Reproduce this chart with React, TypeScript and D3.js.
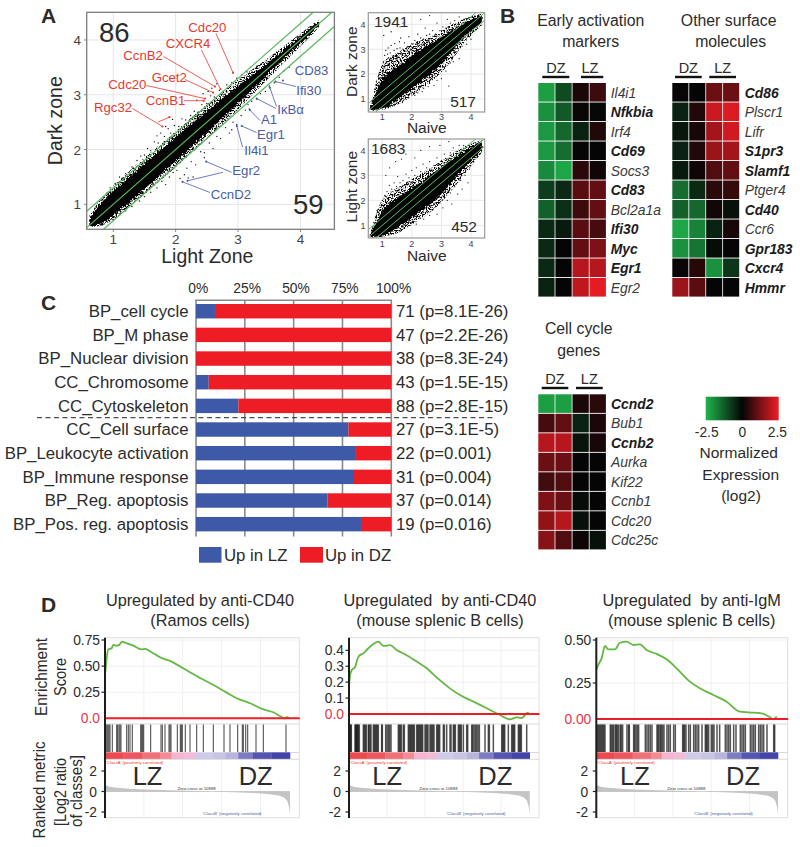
import React from "react";
import * as d3 from "d3";

const FONT = "'Liberation Sans', Arial, sans-serif";
const INK = "#2b2b2b";

// ---------- Panel A data ----------
const mainTicks = [1, 2, 3, 4];
const mainCloudX = [0.62, 0.8, 1, 1.25, 1.5, 1.75, 2, 2.25, 2.5, 2.75, 3, 3.25, 3.5, 3.75, 4, 4.2, 4.3];
const mainCloudHi = [0.74, 1.02, 1.24, 1.49, 1.74, 1.98, 2.22, 2.46, 2.7, 2.93, 3.16, 3.38, 3.6, 3.83, 4.06, 4.25, 4.33];
const mainCloudLo = [0.6, 0.63, 0.8, 1.03, 1.28, 1.54, 1.79, 2.05, 2.31, 2.57, 2.84, 3.12, 3.4, 3.68, 3.94, 4.15, 4.27];
const mainHaloHi = [0.8, 1.1, 1.34, 1.6, 1.85, 2.09, 2.33, 2.58, 2.82, 3.05, 3.28, 3.48, 3.69, 3.9, 4.12, 4.29, 4.36];
const mainHaloLo = [0.59, 0.6, 0.72, 0.94, 1.18, 1.43, 1.67, 1.93, 2.19, 2.46, 2.73, 3.02, 3.31, 3.6, 3.88, 4.11, 4.24];
const mainOutliers: [number, number][] = [
  [0.82, 1.08], [0.9, 1.2], [0.95, 1.3], [1.03, 1.38], [1.1, 1.5], [1.16, 1.46], [1.2, 1.56], [1.3, 1.68], [1.33, 1.62], [1.38, 1.8],
  [1.44, 1.88], [1.5, 1.9], [1.55, 2.02], [1.6, 1.98], [1.66, 2.14], [1.72, 2.12], [1.76, 2.3], [1.82, 2.24], [1.88, 2.38], [1.92, 2.3],
  [1.98, 2.44], [2.05, 2.42], [2.1, 2.56], [2.16, 2.54], [2.24, 2.62], [2.3, 2.7], [2.36, 2.68], [2.42, 2.82], [2.5, 2.84], [2.56, 2.98],
  [2.62, 2.96], [2.7, 3.08], [2.76, 3.06], [2.82, 3.18], [2.9, 3.22], [2.98, 3.3], [3.06, 3.36], [3.14, 3.42], [3.2, 3.5], [3.3, 3.52],
  [2.44, 3.02], [2.52, 3.06], [2.58, 3.12], [2.34, 2.9], [2.66, 3.2], [1.84, 2.42], [1.95, 2.55], [1.7, 2.25],
  [1.0, 0.72], [1.1, 0.8], [1.2, 0.88], [1.3, 0.96], [1.42, 1.06], [1.5, 1.14], [1.6, 1.22], [1.7, 1.3], [1.78, 1.42], [1.84, 1.36],
  [1.9, 1.5], [1.96, 1.58], [2.02, 1.62], [2.07, 1.47], [2.14, 1.54], [2.18, 1.66], [2.25, 1.78], [2.32, 1.72], [2.4, 1.96], [2.46, 1.94],
  [2.54, 2.12], [2.6, 2.02], [2.66, 2.24], [2.72, 2.2], [2.8, 2.4], [2.86, 2.3], [2.92, 2.5], [2.98, 2.46], [3.05, 2.62], [3.12, 2.72],
  [3.16, 2.82], [3.22, 2.88], [3.3, 2.92], [3.36, 3.02], [3.44, 3.06], [3.5, 3.16], [3.58, 3.22], [3.66, 3.32], [3.74, 3.44], [3.82, 3.5],
  [2.28, 1.5], [2.2, 1.48], [2.46, 1.85], [2.9, 2.36], [3.18, 2.74],
];
type Ann = { label: string; tx: number; ty: number; lines: [number, number, number, number][]; dots: [number, number][] };
const redLabels: Ann[] = [
  { label: "Cdc20", tx: 188.3, ty: 31.7, lines: [[216, 33.5, 2.92, 3.4]], dots: [[2.92, 3.4]] },
  { label: "CXCR4", tx: 165.7, ty: 48.3, lines: [[201.5, 50, 2.72, 3.1]], dots: [[2.72, 3.1]] },
  { label: "CcnB2", tx: 123.3, ty: 60, lines: [[163.5, 56.5, 2.63, 3.15]], dots: [[2.63, 3.15]] },
  { label: "Gcet2", tx: 151.7, ty: 82, lines: [[185, 79.5, 2.6, 3.04]], dots: [[2.6, 3.04]] },
  { label: "Cdc20", tx: 108.3, ty: 89.3, lines: [[146.5, 85.5, 2.47, 2.93]], dots: [[2.47, 2.93]] },
  { label: "CcnB1", tx: 145.7, ty: 105.3, lines: [[184, 100.7, 2.45, 2.89]], dots: [[2.45, 2.89]] },
  { label: "Rgc32", tx: 94, ty: 112, lines: [[132.5, 108.5, 1.79, 2.42], [158, 122, 1.9, 2.59]], dots: [[1.79, 2.42], [1.9, 2.59]] },
];
const blueLabels: Ann[] = [
  { label: "CD83", tx: 294.7, ty: 74.7, lines: [], dots: [[3.72, 3.26]] },
  { label: "Ifi30", tx: 296.3, ty: 95, lines: [[296, 86.5, 3.6, 3.24]], dots: [[3.6, 3.24]] },
  { label: "IκBα", tx: 277.3, ty: 114.3, lines: [[276.5, 106.5, 3.51, 3.13], [276, 108.5, 3.3, 2.93]], dots: [[3.51, 3.13], [3.3, 2.93]] },
  { label: "A1", tx: 261, ty: 123.7, lines: [[260, 120.5, 3.19, 2.72]], dots: [[3.19, 2.72]] },
  { label: "Egr1", tx: 257, ty: 138.7, lines: [[256.5, 132.5, 3.06, 2.43]], dots: [[3.06, 2.43]] },
  { label: "Il4i1", tx: 244.3, ty: 155.3, lines: [[242.5, 147, 2.98, 2.43]], dots: [[2.98, 2.43]] },
  { label: "Egr2", tx: 232.3, ty: 174.7, lines: [[231.5, 172.3, 2.49, 1.78], [223, 172.3, 2.19, 1.43]], dots: [[2.49, 1.78], [2.19, 1.43]] },
  { label: "CcnD2", tx: 210.7, ty: 198.7, lines: [[210, 192.5, 2.11, 1.41]], dots: [[2.11, 1.41]] },
];

const naiveX = [0.61, 0.9, 1.12, 1.58, 2.15, 2.71, 3.28, 3.85, 4.36];
const darkHi = [0.69, 1.55, 1.98, 2.35, 2.88, 3.26, 3.7, 4.08, 4.37];
const darkLo = [0.56, 0.6, 0.68, 1.05, 1.58, 2.08, 2.82, 3.6, 4.06];
const darkHaloHi = [0.72, 2.1, 2.6, 2.9, 3.3, 3.55, 3.95, 4.25, 4.42];
const darkHaloLo = [0.54, 0.56, 0.6, 0.8, 1.25, 1.75, 2.45, 3.35, 3.95];
const lightHi = [0.67, 1.35, 1.75, 2.15, 2.6, 3.08, 3.55, 4.0, 4.33];
const lightLo = [0.53, 0.56, 0.64, 0.95, 1.45, 1.93, 2.62, 3.4, 4.0];
const lightHaloHi = [0.7, 1.8, 2.2, 2.55, 2.95, 3.35, 3.8, 4.2, 4.4];
const lightHaloLo = [0.52, 0.53, 0.56, 0.72, 1.15, 1.6, 2.3, 3.15, 3.9];
const darkOutliers: [number, number][] = [
  [0.75, 1.4], [0.8, 1.7], [0.84, 1.55], [0.86, 1.9], [0.9, 2.05], [0.94, 1.85], [0.98, 2.3], [1.02, 2.1], [1.04, 2.5], [1.06, 1.95], [1.08, 2.75], [1.1, 2.35], [1.12, 2.95], [1.15, 2.5], [1.17, 2.2], [1.18, 2.8], [1.2, 3.05], [1.22, 2.35], [1.25, 2.6], [1.27, 2.85], [1.3, 3.15], [1.32, 2.5], [1.35, 2.72], [1.38, 2.45], [1.4, 2.95], [1.42, 3.22], [1.45, 2.75], [1.48, 2.55], [1.5, 3.02], [1.53, 2.7], [1.55, 2.82], [1.58, 3.3], [1.6, 3.05], [1.62, 3.45], [1.65, 2.85], [1.68, 2.65], [1.7, 3.0], [1.75, 3.25], [1.78, 2.75], [1.8, 2.92], [1.85, 3.1], [1.88, 2.85], [1.9, 3.5], [1.95, 3.0], [2.0, 3.22], [2.02, 2.95], [2.05, 3.05], [2.1, 3.35], [2.15, 3.2], [2.2, 3.6], [2.25, 3.3], [2.3, 3.45], [2.35, 3.15], [2.4, 3.4], [2.45, 3.85], [2.5, 3.55], [2.55, 3.3], [2.6, 3.6], [2.65, 3.42], [2.7, 3.75], [2.8, 3.6], [2.85, 4.05], [2.95, 3.75], [3.05, 3.9], [3.1, 3.6], [3.15, 3.85], [3.2, 4.2], [3.3, 4.05], [3.38, 3.85], [3.45, 4.15], [3.55, 4.0], [3.6, 4.3], [3.75, 4.2], [1.7, 4.05], [1.3, 3.7], [1.05, 3.55], [1.6, 3.9], [2.3, 4.2], [2.6, 4.35],
  [1.0, 0.7], [1.15, 0.68], [1.25, 0.72], [1.3, 0.8], [1.4, 0.75], [1.5, 0.85], [1.6, 0.92], [1.68, 0.86], [1.72, 1.1], [1.8, 1.22], [1.88, 1.05], [1.95, 1.3], [2.05, 1.42], [2.1, 1.15], [2.2, 1.25], [2.25, 1.45], [2.3, 1.66], [2.35, 1.3], [2.4, 1.42], [2.5, 1.75], [2.55, 1.5], [2.6, 1.62], [2.7, 1.85], [2.75, 1.55], [2.85, 1.75], [2.9, 2.05], [3.0, 1.82], [3.05, 2.3], [3.15, 2.12], [3.25, 1.52], [3.3, 2.45], [3.4, 2.5], [3.5, 2.9], [3.6, 2.62], [3.7, 3.12], [3.85, 3.2], [4.0, 3.4], [4.1, 3.72],
];
const lightOutliers: [number, number][] = [
  [0.72, 1.1], [0.78, 1.35], [0.82, 1.6], [0.88, 1.5], [0.92, 1.8], [0.96, 1.62], [1.0, 2.0], [1.04, 1.75], [1.08, 2.2], [1.12, 1.95], [1.16, 2.35], [1.2, 2.1], [1.24, 2.6], [1.28, 2.25], [1.32, 2.45], [1.36, 2.2], [1.4, 2.7], [1.44, 2.4], [1.48, 2.55], [1.52, 2.95], [1.56, 2.45], [1.6, 2.7], [1.64, 2.5], [1.7, 2.8], [1.74, 2.6], [1.8, 3.05], [1.85, 2.72], [1.9, 2.9], [1.96, 2.7], [2.0, 3.2], [2.05, 2.85], [2.1, 3.0], [2.15, 3.3], [2.2, 2.95], [2.3, 3.15], [2.38, 3.45], [2.45, 3.1], [2.5, 3.3], [2.6, 3.55], [2.65, 3.25], [2.75, 3.4], [2.85, 3.7], [2.9, 3.45], [3.0, 3.6], [3.1, 3.85], [3.18, 3.65], [3.3, 3.9], [3.4, 4.1], [3.5, 3.95], [3.6, 4.2], [3.75, 4.2],
  [1.45, 3.55], [1.65, 3.65], [1.25, 3.3], [1.12, 3.0], [1.8, 3.85], [2.1, 3.7], [2.3, 4.0], [2.6, 4.15], [2.95, 4.2], [3.25, 4.35],
  [1.1, 0.62], [1.3, 0.65], [1.45, 0.72], [1.6, 0.78], [1.7, 0.95], [1.8, 1.02], [1.9, 1.15], [2.0, 1.1], [2.08, 1.25], [2.15, 1.05], [2.25, 1.3], [2.35, 1.5], [2.4, 1.25], [2.5, 1.55], [2.6, 1.4], [2.7, 1.62], [2.8, 1.75], [2.85, 1.45], [2.95, 1.9], [3.05, 1.7], [3.1, 2.15], [3.2, 2.0], [3.3, 2.3], [3.35, 1.85], [3.45, 2.55], [3.55, 2.25], [3.65, 2.8], [3.7, 2.45], [3.8, 3.0], [3.9, 2.7], [3.95, 3.25], [4.05, 3.55],
];

// ---------- Panel B data ----------
const earlyGenes = ["Il4i1", "Nfkbia", "Irf4", "Cd69", "Socs3", "Cd83", "Bcl2a1a", "Ifi30", "Myc", "Egr1", "Egr2"];
const earlyBold = ["Nfkbia", "Cd69", "Cd83", "Ifi30", "Myc", "Egr1"];
const earlyValues = [
  [-2.2, -1.0, 0.25, 0.6], [-2.0, -1.2, 0.03, -0.03], [-2.1, -1.4, -0.4, 0.3], [-2.1, -1.5, 0, 0], [-1.9, -2.3, 0.4, 0.12],
  [-0.8, -0.5, 0.9, 1.0], [-1.3, -0.6, 0.6, 1.0], [-0.5, -0.3, 0.9, 0.7], [-0.5, 0, 1.0, 1.3], [-0.5, 0, 1.9, 1.9], [-0.4, 0, 2.0, 2.4],
];
const surfaceGenes = ["Cd86", "Plscr1", "Lifr", "S1pr3", "Slamf1", "Ptger4", "Cd40", "Ccr6", "Gpr183", "Cxcr4", "Hmmr"];
const surfaceBold = ["Cd86", "S1pr3", "Slamf1", "Cd40", "Gpr183", "Cxcr4", "Hmmr"];
const surfaceValues = [
  [0.02, 0, 1.1, 1.1], [-0.4, 0.3, 2.1, 2.3], [-0.25, 0.2, 1.7, 2.2], [-0.4, 0.3, 1.6, 1.7], [-0.3, 0.12, 0.8, 1.0],
  [-1.5, -0.5, 0.4, 0.5], [-1.3, -1.4, 0.15, -0.15], [-2.3, -1.8, -0.4, 0.2], [-2.0, -1.6, -0.1, 0], [0.05, 0.35, -2.0, -0.7], [1.6, 0.9, 0, 0],
];
const cycleGenes = ["Ccnd2", "Bub1", "Ccnb2", "Aurka", "Kif22", "Ccnb1", "Cdc20", "Cdc25c"];
const cycleBold = ["Ccnd2", "Ccnb2"];
const cycleValues = [
  [-2.2, -2.2, 0.25, 0.4], [0.7, 1.0, -0.4, 0.25], [1.9, 1.9, -0.2, 0.2], [1.1, 1.1, 0, 0],
  [0.65, 0.8, 0, 0], [1.3, 1.1, -0.1, 0], [1.5, 1.9, -0.15, 0], [1.4, 0.8, 0.07, -0.15],
];
const heatColor = d3.scaleLinear<string>().domain([-2.5, 0, 2.5]).range(["#1fb44c", "#050505", "#ee1c25"]).clamp(true);

// ---------- Panel C data ----------
const terms = ["BP_cell cycle", "BP_M phase", "BP_Nuclear division", "CC_Chromosome", "CC_Cytoskeleton", "CC_Cell surface", "BP_Leukocyte activation", "BP_Immune response", "BP_Reg. apoptosis", "BP_Pos. reg. apoptosis"];
const upLZ = [9.7, 0, 0, 6.5, 21.7, 78, 81.9, 80.9, 67.4, 84.5];
const termNotes = ["71 (p=8.1E-26)", "47 (p=2.2E-26)", "38 (p=8.3E-24)", "43 (p=1.5E-15)", "88 (p=2.8E-15)", "27 (p=3.1E-5)", "22 (p=0.001)", "31 (p=0.004)", "37 (p=0.014)", "19 (p=0.016)"];
const pctTicks = [0, 25, 50, 75, 100];

// ---------- Panel D data ----------
const es1X = [0.002, 0.009, 0.018, 0.036, 0.045, 0.063, 0.077, 0.092, 0.108, 0.153, 0.198, 0.216, 0.252, 0.297, 0.36, 0.423, 0.495, 0.586, 0.658, 0.712, 0.784, 0.856, 0.91, 0.946, 0.973, 0.982, 0.996];
const es1Y = [0.447, 0.575, 0.661, 0.671, 0.703, 0.696, 0.703, 0.735, 0.725, 0.696, 0.661, 0.665, 0.633, 0.585, 0.543, 0.479, 0.406, 0.319, 0.246, 0.192, 0.144, 0.086, 0.058, 0.022, -0.003, 0.01, 0.003];
const es2X = [0, 0.006, 0.015, 0.033, 0.052, 0.079, 0.107, 0.135, 0.162, 0.19, 0.227, 0.264, 0.319, 0.375, 0.43, 0.485, 0.559, 0.614, 0.67, 0.725, 0.78, 0.836, 0.891, 0.928, 0.956, 0.989, 0.998];
const es2Y = [0.172, 0.245, 0.276, 0.293, 0.36, 0.381, 0.413, 0.44, 0.455, 0.428, 0.432, 0.402, 0.369, 0.329, 0.287, 0.23, 0.161, 0.119, 0.088, 0.057, 0.025, -0.006, -0.034, -0.021, -0.025, 0.008, 0];
const es3X = [0, 0.011, 0.029, 0.048, 0.066, 0.103, 0.13, 0.167, 0.204, 0.24, 0.277, 0.332, 0.387, 0.442, 0.515, 0.57, 0.644, 0.717, 0.79, 0.837, 0.91, 0.956, 0.974, 0.993];
const es3Y = [0.326, 0.355, 0.393, 0.465, 0.446, 0.446, 0.484, 0.49, 0.471, 0.475, 0.442, 0.419, 0.388, 0.335, 0.258, 0.213, 0.167, 0.12, 0.051, 0.046, 0.039, 0.012, -0.002, 0.016];
const hits1 = [15, 18, 21, 24, 27, 30, 37, 50, 53, 57, 60, 63, 80, 85, 90, 97, 122, 125, 128, 131, 152, 183, 187, 195, 207, 210, 213, 232, 241, 244, 247, 256, 270, 290, 310, 340, 372, 390, 413, 427, 430, 437, 443, 468, 490, 558];
const hits2 = [13, 15, 17, 19, 30, 32, 34, 36, 38, 40, 43, 55, 58, 61, 64, 70, 72, 75, 78, 85, 88, 91, 94, 97, 100, 110, 112, 122, 126, 130, 134, 138, 160, 163, 166, 169, 175, 178, 190, 193, 196, 199, 202, 205, 208, 215, 218, 221, 224, 227, 230, 233, 240, 243, 246, 249, 255, 258, 261, 264, 267, 275, 278, 281, 284, 295, 298, 305, 315, 318, 325, 328, 331, 340, 343, 346, 349, 355, 365, 368, 380, 383, 387, 391, 395, 399, 403, 420, 430, 433, 445, 470, 473, 476, 479, 490, 500, 503, 506, 509, 520, 523, 526, 529, 545];
const hits3 = [15, 18, 21, 24, 27, 30, 33, 36, 39, 55, 58, 62, 65, 70, 73, 76, 80, 85, 88, 92, 105, 110, 112, 125, 128, 132, 136, 140, 160, 165, 170, 175, 180, 195, 198, 201, 205, 208, 212, 216, 225, 230, 235, 245, 250, 272, 275, 278, 282, 290, 295, 305, 310, 315, 320, 330, 340, 343, 346, 350, 358, 362, 366, 375, 383, 400, 405, 410, 415, 425, 432, 445, 450, 455, 460, 475, 480, 485, 490, 500, 505, 510, 515, 525, 545, 548];
const rankBandStops = [0, 0.1, 0.2, 0.3, 0.36, 0.43, 0.49, 0.58, 0.65, 0.72, 0.8, 0.9, 1];
const rankBandColors = ["#ec4a50", "#ee5560", "#f0707a", "#f48a92", "#f5b5d0", "#f0bcd8", "#cfcbe8", "#c8c4e4", "#b8b4dc", "#7d7cc0", "#5555b0", "#4444a8"];
const metricX = [0, 0.01, 0.03, 0.08, 0.15, 0.25, 0.35, 0.45, 0.55, 0.6, 0.7, 0.8, 0.88, 0.94, 0.97, 0.985, 0.995, 1];
const metricY = [0.7, 0.55, 0.45, 0.33, 0.25, 0.17, 0.12, 0.08, 0.02, -0.03, -0.07, -0.15, -0.25, -0.4, -0.6, -0.9, -1.5, -2.3];
const metricTicks = [2, 0, -2];

const T = (p: any) => <text fontFamily={FONT} fill={INK} {...p} />;

function ScatterMain() {
  const x = d3.scaleLinear().domain([0.574, 4.545]).range([86.7, 334.4]);
  const y = d3.scaleLinear().domain([0.544, 4.505]).range([229.3, 12.3]);
  const area = d3.area<number>().x((_, i) => x(mainCloudX[i])).y0((_, i) => y(mainCloudLo[i])).y1((_, i) => y(mainCloudHi[i]));
  const halo = d3.area<number>().x((_, i) => x(mainCloudX[i])).y0((_, i) => y(mainHaloLo[i])).y1((_, i) => y(mainHaloHi[i]));
  const green = "#5ab85f";
  const lineFor = (d: number) => {
    const lo = Math.max(0.574, 0.544 - d), hi = Math.min(4.545, 4.505 - d);
    return <line x1={x(lo)} y1={y(lo + d)} x2={x(hi)} y2={y(hi + d)} stroke={green} strokeWidth={1.2} />;
  };
  const ann = (a: Ann, col: string) => (
    <g key={a.label + a.tx}>
      {a.lines.map((l, i) => <line key={i} x1={l[0]} y1={l[1]} x2={x(l[2])} y2={y(l[3])} stroke={col} strokeWidth={0.8} />)}
      {a.dots.map((d, i) => <circle key={i} cx={x(d[0])} cy={y(d[1])} r={1.1} fill={col} />)}
      <T x={a.tx} y={a.ty} fontSize={13.2} fill={col}>{a.label}</T>
    </g>
  );
  return (
    <g>
      {mainTicks.map(t => <g key={t}>
        <line x1={x(t)} x2={x(t)} y1={12.3} y2={229.3} stroke="#e6e6e6" />
        <line x1={86.7} x2={334.4} y1={y(t)} y2={y(t)} stroke="#e6e6e6" />
        <line x1={x(t)} x2={x(t)} y1={229.3} y2={232} stroke="#888" />
        <line x1={84} x2={86.7} y1={y(t)} y2={y(t)} stroke="#888" />
        <T x={x(t)} y={243.5} fontSize={13.5} textAnchor="middle" fill="#444">{t}</T>
        <T x={81} y={y(t) + 5} fontSize={13.5} textAnchor="end" fill="#444">{t}</T>
      </g>)}
      <path d={halo(mainCloudX) || ""} fill="#050505" filter="url(#speck)" />
      <path d={area(mainCloudX) || ""} fill="#050505" filter="url(#rough)" />
      {mainOutliers.map((p, i) => <circle key={i} cx={x(p[0])} cy={y(p[1])} r={0.7} fill="#111" />)}
      {lineFor(0.3)}{lineFor(0)}{lineFor(-0.3)}
      <rect x={86.7} y={12.3} width={247.7} height={217} fill="none" stroke="#7d7d7d" strokeWidth={1.3} />
      <T x={99} y={41.7} fontSize={27.5}>86</T>
      <T x={293} y={214} fontSize={27.5}>59</T>
      <T x={207.3} y={263.3} fontSize={21} textLength={92} lengthAdjust="spacingAndGlyphs" textAnchor="middle">Light Zone</T>
      <T transform="translate(61.5,120.7) rotate(-90)" fontSize={21} textLength={89} lengthAdjust="spacingAndGlyphs" textAnchor="middle">Dark zone</T>
      {redLabels.map(a => ann(a, "#e8392e"))}
      {blueLabels.map(a => ann(a, "#4a5ba6"))}
    </g>
  );
}

function ScatterSmall(p: { top: number; bottom: number; y1: number; y4: number; hi: number[]; lo: number[]; hhi: number[]; hlo: number[]; pts: [number, number][]; ylabel: string; yc: number; up: string; upx: number; upy: number; dn: string; dnx: number; dny: number; ny: number; tickY: number }) {
  const x = d3.scaleLinear().domain([1, 4]).range([382.3, 471]);
  const y = d3.scaleLinear().domain([1, 4]).range([p.y1, p.y4]);
  const L = 368.3, R = 484.7;
  const area = d3.area<number>().x((_, i) => x(naiveX[i])).y0((_, i) => y(p.lo[i])).y1((_, i) => y(p.hi[i])).curve(d3.curveCatmullRom);
  const halo = d3.area<number>().x((_, i) => x(naiveX[i])).y0((_, i) => y(p.hlo[i])).y1((_, i) => y(p.hhi[i])).curve(d3.curveCatmullRom);
  const xmin = x.invert(L), xmax = x.invert(R), ymin = y.invert(p.bottom), ymax = y.invert(p.top);
  const lineFor = (d: number) => {
    const lo = Math.max(xmin, ymin - d), hi = Math.min(xmax, ymax - d);
    return <line x1={x(lo)} y1={y(lo + d)} x2={x(hi)} y2={y(hi + d)} stroke="#5ab85f" strokeWidth={1} />;
  };
  return (
    <g>
      {mainTicks.map(t => <g key={t}>
        <line x1={x(t)} x2={x(t)} y1={p.top} y2={p.bottom} stroke="#e8e8e8" />
        <line x1={L} x2={R} y1={y(t)} y2={y(t)} stroke="#e8e8e8" />
        <T x={x(t)} y={p.tickY} fontSize={9} textAnchor="middle" fill="#444">{t}</T>
        <T x={365.5} y={y(t) + 3.3} fontSize={9} textAnchor="end" fill="#444">{t}</T>
      </g>)}
      <path d={halo(naiveX) || ""} fill="#050505" filter="url(#speck)" />
      <path d={area(naiveX) || ""} fill="#050505" filter="url(#rough)" />
      {p.pts.map((q, i) => <circle key={i} cx={x(q[0])} cy={y(q[1])} r={0.65} fill="#111" />)}
      {lineFor(0.3)}{lineFor(0)}{lineFor(-0.3)}
      <rect x={L} y={p.top} width={R - L} height={p.bottom - p.top} fill="none" stroke="#999" strokeWidth={1.2} />
      <T x={p.upx} y={p.upy} fontSize={15.5}>{p.up}</T>
      <T x={p.dnx} y={p.dny} fontSize={15.5} textAnchor="end">{p.dn}</T>
      <T x={426.7} y={p.ny} fontSize={15.5} textAnchor="middle">Naive</T>
      <T transform={`translate(356.5,${p.yc}) rotate(-90)`} fontSize={15.5} textAnchor="middle">{p.ylabel}</T>
    </g>
  );
}

function Heatmap(p: { left: number; top: number; right: number; rowH: number; genes: string[]; bold: string[]; values: number[][]; labelX: number; dzC: number; lzC: number; dzBar: [number, number]; lzBar: [number, number]; barY: number; hdrY: number }) {
  const xs = d3.scaleBand<number>().domain([0, 1, 2, 3]).range([p.left, p.right]);
  const ys = d3.scaleBand<string>().domain(p.genes).range([p.top, p.top + p.rowH * p.genes.length]);
  return (
    <g>
      <T x={p.dzC} y={p.hdrY} fontSize={14.5} textAnchor="middle">DZ</T>
      <T x={p.lzC} y={p.hdrY} fontSize={14.5} textAnchor="middle">LZ</T>
      <rect x={p.dzBar[0]} y={p.barY - 1.2} width={p.dzBar[1] - p.dzBar[0]} height={2.4} fill="#111" />
      <rect x={p.lzBar[0]} y={p.barY - 1.2} width={p.lzBar[1] - p.lzBar[0]} height={2.4} fill="#111" />
      {p.genes.map((g, r) => <g key={g}>
        {p.values[r].map((v, c) => <rect key={c} x={xs(c)} y={ys(g)} width={xs.bandwidth() - 0.8} height={ys.bandwidth() - 0.9} fill={heatColor(v)} />)}
        <T x={p.labelX} y={(ys(g) as number) + ys.bandwidth() / 2 + 4.8} fontSize={13.9} fontStyle="italic" fontWeight={p.bold.includes(g) ? 700 : 400} fill={p.bold.includes(g) ? "#1c1c1c" : "#3a3a3a"}>{g}</T>
      </g>)}
    </g>
  );
}

function BarsC() {
  const x = d3.scaleLinear().domain([0, 100]).range([196, 391.3]);
  const y = d3.scaleBand<string>().domain(terms).range([299.4, 536]).paddingInner(0.39).paddingOuter(0.195);
  const grey = "#8a8a8a";
  return (
    <g>
      {pctTicks.map(t => <g key={t}>
        <line x1={x(t)} x2={x(t)} y1={300} y2={536.5} stroke={grey} strokeWidth={1.6} />
        <T x={x(t) + 2.3} y={293} fontSize={13.8} textAnchor="middle">{t}%</T>
      </g>)}
      <line x1={195} x2={392} y1={300.3} y2={300.3} stroke={grey} strokeWidth={1.6} />
      {terms.map((t, i) => {
        const yy = y(t) as number, h = y.bandwidth();
        return <g key={t}>
          <rect x={x(0)} y={yy} width={x(upLZ[i]) - x(0)} height={h} fill="#3e59a8" />
          <rect x={x(upLZ[i])} y={yy} width={x(100) - x(upLZ[i])} height={h} fill="#ee1c25" />
          <T x={188.5} y={yy + h / 2 + 5.7} fontSize={16.8} textAnchor="end">{t}</T>
          <T x={396} y={yy + h / 2 + 5.7} fontSize={16.8}>{termNotes[i]}</T>
        </g>;
      })}
      <line x1={37} x2={494} y1={417.7} y2={417.7} stroke="#222" strokeWidth={1} strokeDasharray="5,3.5" />
      <rect x={199} y={547} width={22.5} height={15.7} fill="#3e59a8" />
      <T x={224} y={561} fontSize={16.8}>Up in LZ</T>
      <rect x={300} y={547} width={23} height={15.7} fill="#ee1c25" />
      <T x={325} y={561} fontSize={16.8}>Up in DZ</T>
    </g>
  );
}

function Gsea(p: { axisX: number; frameR: number; bandEnd: number; title: string; sub: string; titleC: number; esX: number[]; esY: number[]; yDomain: number[]; yRange: number[]; ticks: number[]; tickLabels: string[]; hits: number[]; hitDomain: [number, number]; hitW: number; lz: number; dz: number; zeroLabel: string; top: number }) {
  const x = d3.scaleLinear().domain([0, 1]).range([p.axisX, p.bandEnd]);
  const hx = d3.scaleLinear().domain(p.hitDomain).range([p.axisX, p.bandEnd]);
  const y = d3.scaleLinear().domain(p.yDomain).range(p.yRange);
  const m = d3.scaleLinear().domain([-2, 2]).range([812, 771]);
  const line = d3.line<number>().x((_, i) => x(p.esX[i])).y((_, i) => y(p.esY[i])).curve(d3.curveMonotoneX);
  const marea = d3.area<number>().x((_, i) => x(metricX[i])).y0(m(0)).y1((_, i) => m(metricY[i]));
  const A = p.axisX, R = p.frameR;
  const zero = y(0);
  return (
    <g>
      <T x={p.titleC} y={606} fontSize={16.3} textAnchor="middle">{p.title}</T>
      <T x={p.titleC} y={626} fontSize={16.3} textAnchor="middle">{p.sub}</T>
      <rect x={A} y={637.7} width={R - A} height={180} fill="none" stroke="#dedede" strokeWidth={1} />
      {[0.2, 0.4, 0.6, 0.8].map(f => <line key={f} x1={A + (R - A) * f} x2={A + (R - A) * f} y1={638} y2={718} stroke="#f0f0f0" />)}
      {[0.2, 0.4, 0.6, 0.8].map(f => <line key={f} x1={A + (R - A) * f} x2={A + (R - A) * f} y1={760} y2={817} stroke="#f0f0f0" />)}
      {p.ticks.map((t, i) => <g key={t}>
        <line x1={A} x2={R} y1={y(t)} y2={y(t)} stroke="#f0f0f0" />
        <line x1={A - 3.5} x2={A} y1={y(t)} y2={y(t)} stroke="#222" strokeWidth={1.2} />
        <T x={A - 5} y={y(t) + 5} fontSize={13.8} textAnchor="end">{p.tickLabels[i]}</T>
      </g>)}
      <T x={A - 5} y={zero + 5} fontSize={13.8} textAnchor="end" fill="#e8344a">{p.zeroLabel}</T>
      <path d={line(p.esX) || ""} fill="none" stroke="#62b840" strokeWidth={1.8} />
      <line x1={A} x2={R + 0.5} y1={zero} y2={zero} stroke="#ee1c25" strokeWidth={2} />
      <line x1={A} x2={R} y1={724} y2={724} stroke="#cfcfcf" strokeWidth={0.8} />
      {p.hits.map((h, i) => <line key={i} x1={hx(h)} x2={hx(h)} y1={724.5} y2={752} stroke="#111" strokeWidth={p.hitW} strokeOpacity={0.72} />)}
      {rankBandColors.map((c, i) => <rect key={i} x={x(rankBandStops[i])} y={752.3} width={x(rankBandStops[i + 1]) - x(rankBandStops[i]) + 0.3} height={6.8} fill={c} />)}
      <line x1={p.bandEnd} x2={R} y1={752.5} y2={752.5} stroke="#cfcfcf" strokeWidth={0.8} />
      <line x1={A} x2={R} y1={759.3} y2={759.3} stroke="#cfcfcf" strokeWidth={0.8} />
      <T x={A + 1} y={764} fontSize={4.3} fill="#e8392e">'ClassA' (positively correlated)</T>
      <path d={marea(metricX) || ""} fill="#c4c4c4" />
      <line x1={A} x2={p.bandEnd} y1={m(0)} y2={m(0)} stroke="#ababab" strokeWidth={0.5} />
      <T x={A + (p.bandEnd - A) * 0.495} y={789.5} fontSize={4.3} textAnchor="middle" fill="#333">Zero cross at 10888</T>
      <T x={A + 97.5} y={815} fontSize={4.3} fill="#4a5ba6">'ClassB' (negatively correlated)</T>
      {metricTicks.map(t => <g key={t}>
        <line x1={A - 3.5} x2={A} y1={m(t)} y2={m(t)} stroke="#222" strokeWidth={1.2} />
        <T x={A - 8} y={m(t) + 5} fontSize={13.8} textAnchor="end">{t}</T>
      </g>)}
      <line x1={A} x2={A} y1={p.top} y2={818} stroke="#1d1d1d" strokeWidth={2} />
      <T x={p.lz} y={785} fontSize={25.5}>LZ</T>
      <T x={p.dz} y={785} fontSize={25.5}>DZ</T>
    </g>
  );
}

export default function App() {
  const gradStops = [-2.5, -1.25, 0, 1.25, 2.5];
  const legend = d3.scaleLinear().domain([-2.5, 2.5]).range([0, 100]);
  return (
    <svg width={800} height={847} style={{ position: "absolute", left: 0, top: 0, background: "#fff" }}>
      <defs>
        <linearGradient id="hm">
          {gradStops.map(s => <stop key={s} offset={`${legend(s)}%`} stopColor={heatColor(s)} />)}
        </linearGradient>
        <filter id="speck" x="-5%" y="-5%" width="110%" height="110%" colorInterpolationFilters="sRGB">
          <feTurbulence type="fractalNoise" baseFrequency="0.75" numOctaves={1} seed={4} result="n" />
          <feColorMatrix in="n" type="matrix" values="0 0 0 0 0  0 0 0 0 0  0 0 0 0 0  0 0 0 9 -4.2" result="t" />
          <feComposite in="SourceGraphic" in2="t" operator="in" />
        </filter>
        <filter id="rough" x="-5%" y="-5%" width="110%" height="110%" colorInterpolationFilters="sRGB">
          <feTurbulence type="fractalNoise" baseFrequency="0.5" numOctaves={1} seed={9} result="n" />
          <feDisplacementMap in="SourceGraphic" in2="n" scale={5} xChannelSelector="R" yChannelSelector="G" />
        </filter>
      </defs>
      <T x={41} y={23} fontSize={21} fontWeight={700}>A</T>
      <T x={500} y={23} fontSize={21} fontWeight={700}>B</T>
      <T x={41} y={310} fontSize={21} fontWeight={700}>C</T>
      <T x={41} y={612} fontSize={21} fontWeight={700}>D</T>

      <ScatterMain />
      <ScatterSmall top={12.7} bottom={112} y1={99} y4={24.3} hi={darkHi} lo={darkLo} hhi={darkHaloHi} hlo={darkHaloLo} pts={darkOutliers} ylabel="Dark zone" yc={61.7} up="1941" upx={374} upy={27} dn="517" dnx={476} dny={107} ny={133} tickY={120} />
      <ScatterSmall top={139} bottom={238} y1={225.3} y4={150.3} hi={lightHi} lo={lightLo} hhi={lightHaloHi} hlo={lightHaloLo} pts={lightOutliers} ylabel="Light zone" yc={186.7} up="1683" upx={371} upy={154} dn="452" dnx={477} dny={231.7} ny={260.7} tickY={247} />

      <T x={590.7} y={26} fontSize={15.8} textAnchor="middle">Early activation</T>
      <T x={590.7} y={47} fontSize={15.8} textAnchor="middle">markers</T>
      <Heatmap left={538.3} right={606.7} top={83} rowH={19.5} genes={earlyGenes} bold={earlyBold} values={earlyValues} labelX={610.7} dzC={556} lzC={590} dzBar={[542.3, 569.3]} lzBar={[581, 603.3]} barY={77} hdrY={72.7} />
      <T x={728.7} y={26} fontSize={15.8} textAnchor="middle">Other surface</T>
      <T x={730.7} y={47} fontSize={15.8} textAnchor="middle">molecules</T>
      <Heatmap left={672.3} right={740} top={83} rowH={19.5} genes={surfaceGenes} bold={surfaceBold} values={surfaceValues} labelX={744.7} dzC={688.3} lzC={722.7} dzBar={[675, 701.7]} lzBar={[709.3, 736]} barY={77} hdrY={72.7} />
      <T x={578.7} y={334.3} fontSize={15.8} textAnchor="middle">Cell cycle</T>
      <T x={578.7} y={355.7} fontSize={15.8} textAnchor="middle">genes</T>
      <Heatmap left={538.3} right={606.7} top={394.3} rowH={19.5} genes={cycleGenes} bold={cycleBold} values={cycleValues} labelX={611} dzC={555} lzC={589.3} dzBar={[541.7, 568.3]} lzBar={[576, 602.7]} barY={388} hdrY={384} />

      <rect x={705.7} y={396.7} width={73} height={23.6} fill="url(#hm)" />
      <T x={706.7} y={437} fontSize={13.8} textAnchor="middle">-2.5</T>
      <T x={742.3} y={437} fontSize={13.8} textAnchor="middle">0</T>
      <T x={777.3} y={437} fontSize={13.8} textAnchor="middle">2.5</T>
      <T x={738.7} y={458.3} fontSize={15.5} textAnchor="middle">Normalized</T>
      <T x={740.7} y={480} fontSize={15.5} textAnchor="middle">Expression</T>
      <T x={741} y={501} fontSize={15.5} textAnchor="middle">(log2)</T>

      <BarsC />

      <T transform="translate(46.5,677) rotate(-90)" fontSize={16.5} textLength={78} lengthAdjust="spacingAndGlyphs" textAnchor="middle">Enrichment</T>
      <T transform="translate(65.5,677) rotate(-90)" fontSize={16.5} textLength={38} lengthAdjust="spacingAndGlyphs" textAnchor="middle">Score</T>
      <T transform="translate(44.5,790) rotate(-90)" fontSize={16.5} textLength={97} lengthAdjust="spacingAndGlyphs" textAnchor="middle">Ranked metric</T>
      <T transform="translate(65.5,792) rotate(-90)" fontSize={16.5} textLength={68} lengthAdjust="spacingAndGlyphs" textAnchor="middle">[Log2 ratio</T>
      <T transform="translate(81.5,791) rotate(-90)" fontSize={16.5} textLength={72} lengthAdjust="spacingAndGlyphs" textAnchor="middle">of classes]</T>

      <Gsea axisX={105} frameR={299.3} bandEnd={290} title="Upregulated by anti-CD40" sub="(Ramos cells)" titleC={200} esX={es1X} esY={es1Y} yDomain={[0, 0.75]} yRange={[718.3, 640]} ticks={[0.25, 0.5, 0.75]} tickLabels={["0.25", "0.50", "0.75"]} zeroLabel="0.0" hits={hits1} hitDomain={[15, 570]} hitW={1.1} lz={132.7} dz={238.7} top={637.7} />
      <Gsea axisX={349} frameR={539} bandEnd={529.7} title={"Upregulated \u00a0by anti-CD40"} sub="(mouse splenic B cells)" titleC={440} esX={es2X} esY={es2Y} yDomain={[0, 0.4]} yRange={[714, 650.3]} ticks={[0.1, 0.2, 0.3, 0.4]} tickLabels={["0.1", "0.2", "0.3", "0.4"]} zeroLabel="0.0" hits={hits2} hitDomain={[12, 554]} hitW={1.5} lz={372.3} dz={478.3} top={637.7} />
      <Gsea axisX={596.3} frameR={787.7} bandEnd={778} title={"Upregulated \u00a0by anti-IgM"} sub="(mouse splenic B cells)" titleC={691.7} esX={es3X} esY={es3Y} yDomain={[0, 0.25, 0.5]} yRange={[719, 683, 640]} ticks={[0.25, 0.5]} tickLabels={["0.25", "0.50"]} zeroLabel="0.00" hits={hits3} hitDomain={[13, 558]} hitW={1.5} lz={620} dz={726} top={637.7} />
    </svg>
  );
}
